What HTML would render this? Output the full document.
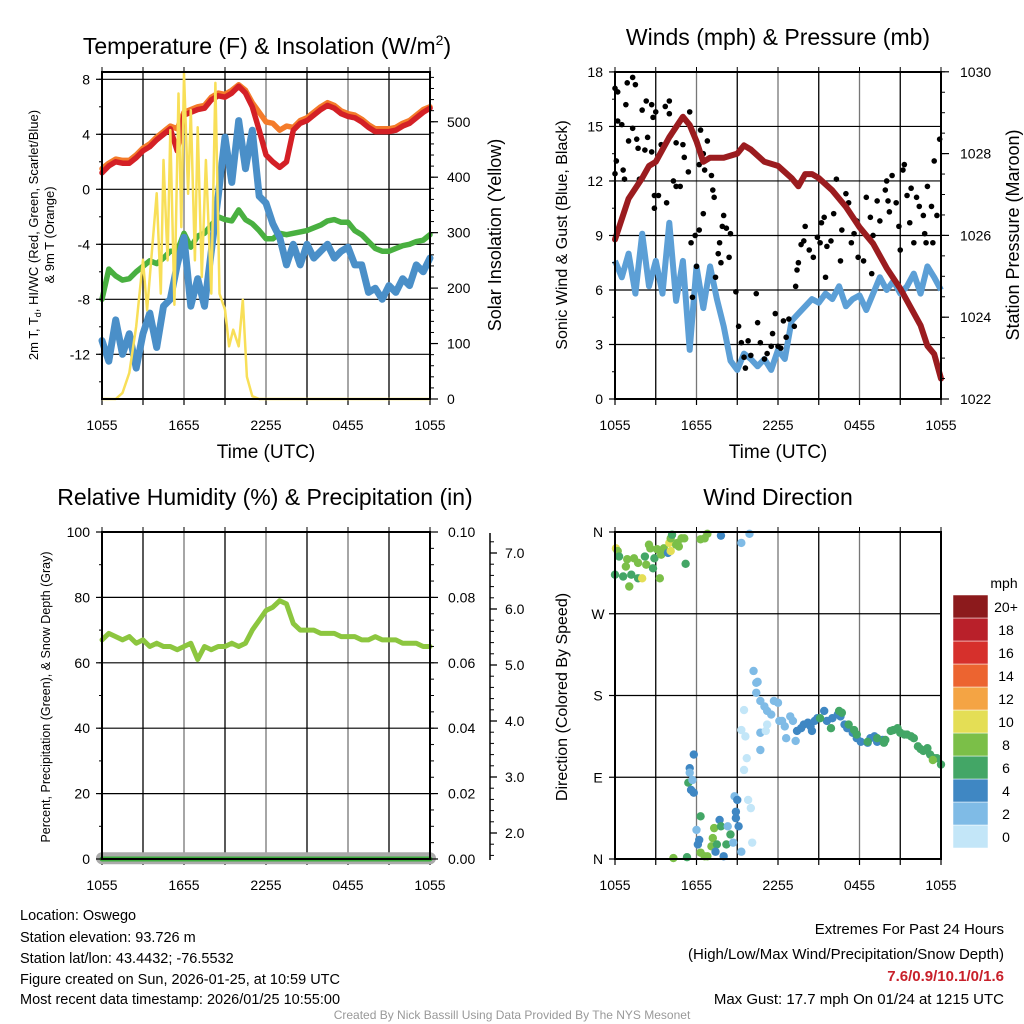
<!DOCTYPE html>
<html><head><meta charset="utf-8"><style>
html,body{margin:0;padding:0;background:#fff;}
svg{display:block;font-family:"Liberation Sans",Arial,sans-serif;}
</style></head><body>
<svg id="c" width="1024" height="1024" viewBox="0 0 1024 1024" xmlns="http://www.w3.org/2000/svg">
<rect width="1024" height="1024" fill="#fff"/>
<text x="267" y="54" font-size="23" text-anchor="middle">Temperature (F) &amp; Insolation (W/m<tspan font-size="14" dy="-9">2</tspan><tspan dy="9">)</tspan></text>
<text x="778" y="45" font-size="23" text-anchor="middle">Winds (mph) &amp; Pressure (mb)</text>
<text x="265" y="505" font-size="23" text-anchor="middle">Relative Humidity (%) &amp; Precipitation (in)</text>
<text x="778" y="505" font-size="23" text-anchor="middle">Wind Direction</text>
<text x="266" y="458" font-size="19" text-anchor="middle">Time (UTC)</text>
<text x="778" y="458" font-size="19" text-anchor="middle">Time (UTC)</text>
<text transform="translate(38,235) rotate(-90)" font-size="13" text-anchor="middle">2m T, T<tspan font-size="9" dy="3">d</tspan><tspan dy="-3">, HI/WC (Red, Green, Scarlet/Blue)</tspan></text>
<text transform="translate(54,235) rotate(-90)" font-size="13" text-anchor="middle">&amp; 9m T (Orange)</text>
<text transform="translate(501,235) rotate(-90)" font-size="18" text-anchor="middle">Solar Insolation (Yellow)</text>
<text transform="translate(567,235) rotate(-90)" font-size="16" text-anchor="middle">Sonic Wind &amp; Gust (Blue, Black)</text>
<text transform="translate(1019,235) rotate(-90)" font-size="18" text-anchor="middle">Station Pressure (Maroon)</text>
<text transform="translate(50,697) rotate(-90)" font-size="12.5" text-anchor="middle">Percent, Precipitation (Green), &amp; Snow Depth (Gray)</text>
<text transform="translate(567,697) rotate(-90)" font-size="16" text-anchor="middle">Direction (Colored By Speed)</text>
<g font-size="14.5">
<text x="20" y="920">Location: Oswego</text>
<text x="20" y="942">Station elevation: 93.726 m</text>
<text x="20" y="963">Station lat/lon: 43.4432; -76.5532</text>
<text x="20" y="984">Figure created on Sun, 2026-01-25, at 10:59 UTC</text>
<text x="20" y="1004">Most recent data timestamp: 2026/01/25 10:55:00</text>
</g>
<g font-size="15" text-anchor="end">
<text x="1004" y="934">Extremes For Past 24 Hours</text>
<text x="1004" y="959">(High/Low/Max Wind/Precipitation/Snow Depth)</text>
<text x="1004" y="981" fill="#c8202a" font-weight="bold">7.6/0.9/10.1/0/1.6</text>
<text x="1004" y="1004">Max Gust: 17.7 mph On 01/24 at 1215 UTC</text>
</g>
<text x="512" y="1019" font-size="12" fill="#999" text-anchor="middle">Created By Nick Bassill Using Data Provided By The NYS Mesonet</text>
</svg>
<script>
// ---- data ----
const xTickLabels = ["1055","1655","2255","0455","1055"];
const tempLeftTicks = [8,4,0,-4,-8,-12];
const solarTicks = [0,100,200,300,400,500];
const windTicks = [0,3,6,9,12,15,18];
const pressTicks = [1022,1024,1026,1028,1030];
const rhTicks = [0,20,40,60,80,100];
const precipTicks = ["0.00","0.02","0.04","0.06","0.08","0.10"];
const snowTicks = ["2.0","3.0","4.0","5.0","6.0","7.0"];
const dirLabels = ["N","W","S","E","N"];
const speedBins = ["0","2","4","6","8","10","12","14","16","18","20+"];
const speedColors = ["#c3e6f8","#7fbbe6","#3f87c3","#43a666","#7bbf48","#e4de55","#f4a444","#ec6430","#d6302c","#b9202a","#8c1a1c"];

const halfHours = [0,0.5,1,1.5,2,2.5,3,3.5,4,4.5,5,5.5,6,6.5,7,7.5,8,8.5,9,9.5,10,10.5,11,11.5,12,12.5,13,13.5,14,14.5,15,15.5,16,16.5,17,17.5,18,18.5,19,19.5,20,20.5,21,21.5,22,22.5,23,23.5,24];
const temp2m = [1.2,1.7,2.0,1.9,1.9,2.3,2.8,3.1,3.6,4.0,4.4,2.8,5.4,5.6,5.8,5.9,6.5,6.8,6.7,7.0,7.5,7.0,6.0,4.3,2.5,2.0,1.6,2.0,4.3,4.8,5.0,5.4,5.8,6.1,5.9,5.5,5.3,5.2,4.9,4.5,4.2,4.2,4.2,4.3,4.6,4.8,5.2,5.6,5.9];
const temp9m = [1.5,1.9,2.2,2.1,2.1,2.5,3.0,3.3,3.8,4.2,4.6,4.4,5.6,5.8,6.0,6.1,6.7,7.0,6.9,7.2,7.6,7.2,6.3,5.6,4.9,4.8,4.3,4.6,4.5,5.0,5.2,5.6,6.0,6.3,6.1,5.7,5.5,5.4,5.1,4.7,4.4,4.4,4.4,4.5,4.8,5.0,5.4,5.8,6.0];
const windChill = [-8,-5.8,-6.3,-6.6,-6.5,-6,-5.6,-5.2,-5.4,-5,-4.5,-4.5,-3.2,-4.2,-3.4,-3.2,-2.6,-2.0,-2.2,-2.3,-1.5,-2.2,-2.5,-3,-3.6,-3.6,-3.2,-3.3,-3.2,-3.1,-3.0,-2.8,-2.6,-2.3,-2.2,-2.4,-2.4,-3,-3.3,-3.8,-4.3,-4.5,-4.5,-4.3,-4.1,-4.0,-3.8,-3.7,-3.3];
const dewpoint = [-11,-12.5,-9.5,-12,-10.5,-13,-10.5,-9,-11.5,-8.5,-8,-5.5,-3.5,-8.5,-6.5,-8.5,-4.5,-0.5,3.8,0.5,5,1.5,4.3,-0.5,-1,-2.5,-3.5,-5.5,-4,-5.5,-4,-5,-4.5,-4,-5,-4.5,-4.2,-5.5,-5.5,-7.5,-7.2,-8,-7,-7.5,-6.5,-7,-5.5,-6,-5];
const solarT = [0,1,1.5,2,2.5,3,3.3,3.5,4,4.3,4.5,4.8,5,5.3,5.6,5.8,6,6.3,6.5,6.8,7,7.3,7.6,8,8.3,8.6,9,9.3,9.6,10,10.3,10.6,11,11.5,24];
const solarW = [0,0,11,47,131,251,160,220,371,190,431,250,485,170,551,310,587,370,521,250,490,220,431,190,570,190,161,95,125,95,179,40,5,0,0];

const windSpeed = [7.6,6.7,8,5.8,9.1,6.2,7.6,5.8,9.7,5.4,7.6,2.7,7.3,5,7.3,5.5,4.0,2.1,1.6,2.5,2.2,1.8,2.2,1.6,2.7,2.2,4.3,4.7,5.1,5.5,5.3,5.8,5.5,6.2,5.1,5.5,5.7,4.9,5.8,6.7,6.0,6.5,5.8,6.2,6.9,5.8,7.3,6.7,6.0];
const pressT = [0,1,2,2.5,3,4,5,5.5,6,6.5,7,8,9,9.5,10,11,12,13,13.5,14,14.5,15,16,17,18,19,20,21,22,22.5,23,23.5,24];
const pressMb = [1025.9,1026.9,1027.4,1027.7,1027.8,1028.4,1028.9,1028.7,1028.3,1027.8,1027.9,1027.9,1028.0,1028.2,1028.1,1027.8,1027.7,1027.4,1027.2,1027.5,1027.5,1027.4,1027.1,1026.7,1026.2,1025.8,1025.2,1024.7,1024.1,1023.8,1023.3,1023.1,1022.5];
const gustT = [0.0,0.2,0.9,1.3,1.5,0.2,0.5,0.1,0.0,0.6,0.7,0.8,1.3,1.0,1.6,1.7,1.8,2.2,2.4,2.0,2.3,2.7,2.8,3.0,2.7,2.9,3.2,2.9,3.4,3.7,3.8,4.0,4.0,4.1,4.3,4.5,4.5,4.8,5.0,5.1,5.4,5.5,5.6,5.9,6.0,6.2,6.2,6.3,6.5,6.6,6.8,7.1,7.2,7.3,6.5,5.7,7.4,7.6,7.7,7.8,7.9,8.0,8.2,8.4,8.5,8.9,9.1,9.3,9.5,9.6,9.8,10.0,10.4,10.5,10.7,11.0,11.2,11.5,11.6,11.8,12.0,12.2,12.4,12.6,12.8,13.2,13.3,13.4,13.5,13.7,13.9,14.0,14.3,14.6,14.9,15.1,15.2,15.4,15.5,15.6,15.9,16.1,16.3,16.6,16.7,17.0,17.2,17.4,17.6,17.8,17.9,18.3,18.5,18.8,18.9,19.0,19.3,19.5,19.9,20.0,20.1,20.2,20.4,20.7,20.9,21.0,21.2,21.3,21.5,21.7,21.8,22.0,22.2,22.4,22.7,22.8,22.9,23.0,23.3,23.4,23.5,23.7,23.9];
const gustV = [17.1,16.9,17.4,17.7,17.3,15.3,15.1,13.1,12.4,12.6,12.1,16.2,14.9,14.2,14.3,13.8,12.1,13.7,14.4,15.9,16.4,16.2,15.5,15.8,13.6,11.2,11.2,10.5,14.0,16.1,10.8,16.4,15.7,14.5,12.0,11.7,14.1,11.7,14.0,13.3,12.5,15.8,8.6,9.0,7.3,9.3,12.9,14.8,13.5,12.6,14.2,12.3,11.5,11.1,10.2,5.6,6.7,8.0,8.6,7.5,9.5,10.1,9.4,7.8,9.1,5.9,4.0,3.1,2.3,1.7,3.2,2.4,5.8,4.2,3.1,2.2,2.5,2.9,3.6,4.7,2.9,2.8,4.3,3.4,4.4,4.0,6.2,7.1,7.5,8.5,8.7,9.5,8.2,7.8,8.9,8.6,9.7,10.0,6.7,8.4,8.7,10.2,12.1,7.6,9.3,11.3,10.8,8.6,9.1,9.8,7.8,7.6,11.1,10.0,6.9,9.0,10.9,9.8,11.5,12.0,10.9,10.3,12.3,10.8,9.5,8.2,12.6,12.9,11.2,9.7,11.6,8.6,11.1,10.6,10.1,9.1,8.6,11.7,10.6,8.6,13.1,10.1,14.3];

const rh = [67,69,68,67,68,66,67,65,66,65,65,64,65,66,61,65,64,65,65,66,65,66,70,73,76,77,79,78,72,70,70,70,69,69,69,68,68,68,67,67,68,67,67,67,66,66,66,65,65];
const precip = [0,0,0,0,0];
const precipT = [0,6,12,18,24];
const snowDepth = [1.55,1.55,1.55,1.55,1.55];

const dirT = [0.07,0.2,0.3,0.0,0.6,1.05,1.2,1.7,2.0,0.8,0.9,1.4,1.7,2.2,2.3,2.5,2.6,2.8,2.9,3.1,3.3,3.4,3.6,3.9,4.0,4.1,4.1,4.2,4.5,4.6,4.7,4.9,5.1,5.2,6.3,6.6,6.8,7.8,9.3,9.9,
 5.8,5.5,5.5,5.4,5.7,5.6,5.8,6.3,6.0,6.2,6.1,6.3,6.6,6.8,7.1,7.2,7.3,7.5,7.4,7.7,7.8,8.0,8.2,8.3,8.5,8.7,8.8,8.9,9.0,8.9,9.1,9.3,4.3,5.3,9.8,10.0,10.1,
 9.3,9.6,9.5,9.7,9.5,10.2,10.4,10.5,10.4,10.7,11.0,11.2,11.5,11.7,12.0,12.1,12.3,12.5,12.6,12.9,13.1,13.3,10.7,10.7,11.2,11.1,
 13.4,13.7,13.9,14.2,14.4,14.5,14.7,14.9,15.4,15.6,16.0,16.4,16.6,16.9,17.1,17.5,17.8,18.1,18.6,18.8,19.1,19.3,19.7,
 15.1,15.9,16.5,16.7,17.2,17.6,17.8,18.6,19.3,19.8,19.9,20.3,20.5,20.8,21.0,21.3,21.5,21.8,22.0,22.3,22.5,22.7,23.0,23.2,23.5,23.7,24.0,23.4];
const dirDeg = [342,339,333,313,311,300,313,309,309,322,330,331,326,333,324,346,342,320,331,341,309,335,342,337,348,339,353,357,346,348,344,353,353,325,352,353,358,356,348,358,
 115,100,95,84,87,76,73,47,32,21,16,7,3,3,14,23,34,16,8,43,36,3,16,36,27,18,69,45,65,52,36,8,1,2,65,56,18,
 142,135,164,111,98,207,194,195,183,174,168,163,159,174,172,152,152,146,133,157,152,130,139,120,148,141,
 141,144,148,150,146,141,152,155,163,152,155,159,157,148,144,139,133,129,128,133,135,129,131,
 155,144,163,161,148,142,137,129,133,128,131,141,142,144,139,137,137,135,133,124,121,119,122,115,111,111,104,109];
const dirSpd = [10,8,6,6,6,8,6,6,10,8,8,8,8,6,8,8,8,6,6,8,8,8,8,4,10,10,8,6,8,8,8,8,8,6,8,8,8,4,2,2,
 4,4,2,6,2,4,4,6,2,4,4,8,8,8,8,8,8,6,4,4,6,4,6,2,6,2,2,4,4,4,4,2,8,6,0,0,0,
 0,0,0,0,0,2,2,2,2,2,2,2,2,2,2,2,2,2,2,2,2,2,2,2,0,0,
 4,4,4,4,4,4,4,4,4,4,4,4,4,4,4,4,4,4,4,4,4,4,4,
 6,6,6,6,6,6,6,6,6,6,6,6,6,6,6,6,6,6,6,6,6,6,6,6,6,6,6,8];

// ---- axis functions ----
const X1 = h => 102 + h*328/24;
const X2 = h => 615 + h*326/24;
const Yt = v => 189.3 - 13.75*v;
const Ys = w => 399 - w*0.5545;
const Yw = v => 399 - v*18.17;
const Yp = p => 399 - (p-1022)*40.9;
const Yrh = v => 859 - v*3.27;
const Ypr = v => 859 - v*3270;
const Ysd = v => 833 - (v-2)*56;
const Yd = d => 859 - d*327/360;

const svg = document.getElementById('c');
const NS = 'http://www.w3.org/2000/svg';
function mk(tag, attrs, parent){
  const e = document.createElementNS(NS, tag);
  for (const k in attrs) e.setAttribute(k, attrs[k]);
  (parent||svg).appendChild(e);
  return e;
}
function line(x1,y1,x2,y2,stroke,w,parent){ return mk('line',{x1,y1,x2,y2,stroke,'stroke-width':w},parent); }
function txt(x,y,s,anchor,size,parent){ const t=mk('text',{x,y,'font-size':size||14,'text-anchor':anchor||'middle'},parent); t.textContent=s; return t; }
function pathFrom(xs, ys, fx, fy){ let d=''; for(let i=0;i<xs.length;i++){ d += (i?'L':'M')+fx(xs[i]).toFixed(1)+','+fy(ys[i]).toFixed(1);} return d; }

function frame(name, L, T, R, B, X, hGridYs){
  const g = mk('g',{});
  
  
  for (let h=3; h<24; h+=3){
    const gl = line(X(h),T,X(h),B,(h%6===0)?'#777':'#000',1.3,g);
    
    
  }
  hGridYs.forEach(y=>{ const gl=line(L,y,R,y,'#000',1.2,g);   });
  for (let h=0; h<=24; h+=3){ line(X(h),B,X(h),B+6,'#000',1.2,g); line(X(h),T,X(h),T-5,'#000',1,g); }
  xTickLabels.forEach((s,i)=>{ const t=txt(X(i*6),B+31,s,'middle',14,g);   });
  return g;
}
function outline(L,T,R,B){ const r=mk('rect',{x:L,y:T,width:R-L,height:B-T,fill:'none',stroke:'#000','stroke-width':2});   }
function leftTicks(L, vals, fy, fmt, minorStep, lo, hi){
  for (let v=lo; v<=hi+1e-9; v+=minorStep) line(L,fy(v),L-3,fy(v),'#000',1);
  vals.forEach(v=>{ line(L,fy(v),L-6,fy(v),'#000',1.2); const t=txt(L-12,fy(v)+5,fmt(v),'end',14);   });
}
function rightTicks(R, vals, fy, fmt, minorStep, lo, hi, labelX){
  for (let v=lo; v<=hi+1e-9; v+=minorStep) line(R,fy(v),R+4,fy(v),'#000',1);
  vals.forEach(v=>{ line(R,fy(v),R+8,fy(v),'#000',1.2); const t=txt(labelX,fy(v)+5,fmt(v),'start',14);   });
}

// ---- Panel 1: temperature ----
frame('temp-panel',102,72,430,399,X1,tempLeftTicks.map(Yt));
const p1 = mk('g',{});


[['windchill-line',windChill,'#49b040',5.5],['dewpoint-line',dewpoint,'#4a8fc8',7],['temp9m-line',temp9m,'#f47b2a',5.5],['temp2m-line',temp2m,'#d42026',5.5]].forEach(([n,arr,c,w])=>{
  const p = mk('path',{d:pathFrom(halfHours,arr,X1,Yt),fill:'none',stroke:c,'stroke-width':w,'stroke-linejoin':'round','stroke-linecap':'round'},p1);
  
  
});
const solar = mk('path',{d:pathFrom(solarT,solarW,X1,Ys),fill:'none',stroke:'#f8df58','stroke-width':2.5,'stroke-linejoin':'round'},p1);


outline(102,72,430,399);
leftTicks(102,tempLeftTicks,Yt,v=>String(v),2,-14,8);
rightTicks(430,solarTicks,Ys,v=>String(v),20,0,580,447);

// ---- Panel 2: wind ----
frame('wind-panel',615,72,941,399,X2,windTicks.slice(1).map(Yw));
const p2 = mk('g',{});


const ws = mk('path',{d:pathFrom(halfHours,windSpeed,X2,Yw),fill:'none',stroke:'#5c9fd6','stroke-width':6,'stroke-linejoin':'round'},p2);


for (let i=0;i<gustT.length;i++){
  const c = mk('circle',{cx:X2(gustT[i]),cy:Yw(gustV[i]),r:2.8,fill:'#000'},p2);
  
  
}
const pr = mk('path',{d:pathFrom(pressT,pressMb,X2,Yp),fill:'none',stroke:'#9b1c1f','stroke-width':6,'stroke-linejoin':'round','stroke-linecap':'round'},p2);


outline(615,72,941,399);
leftTicks(615,windTicks,Yw,v=>String(v),1.5,0,18);
rightTicks(941,pressTicks,Yp,v=>String(v),0.5,1022,1030,960);

// ---- Panel 3: RH ----
frame('rh-panel',102,532,430,859,X1,rhTicks.slice(1,5).map(Yrh));
const p3 = mk('g',{});


const sd = mk('path',{d:pathFrom(precipT,snowDepth,X1,Ysd),fill:'none',stroke:'#aaa','stroke-width':12,'stroke-linecap':'round'},p3);


const pc = mk('path',{d:pathFrom(precipT,precip,X1,Ypr),fill:'none',stroke:'#3fae3f','stroke-width':5,'stroke-linecap':'round'},p3);


const rl = mk('path',{d:pathFrom(halfHours,rh,X1,Yrh),fill:'none',stroke:'#8cc63f','stroke-width':5,'stroke-linejoin':'round','stroke-linecap':'round'},p3);


outline(102,532,430,859);
leftTicks(102,rhTicks,Yrh,v=>String(v),10,0,100);
rightTicks(430,precipTicks.map(Number),Ypr,v=>v.toFixed(2),0.005,0,0.1,448);
line(490,533,490,860,'#000',1.5);
for (let v=1.6; v<=7.4; v+=0.2) line(490,Ysd(v),494,Ysd(v),'#000',1);
snowTicks.forEach(s=>{ const v=Number(s); line(490,Ysd(v),497,Ysd(v),'#000',1.3); const t=txt(505,Ysd(v)+5,s,'start',14);   });

// ---- Panel 4: direction ----
frame('dir-panel',615,532,941,859,X2,[90,180,270].map(Yd));
const p4 = mk('g',{});


for (let i=0;i<dirT.length;i++){
  const c = mk('circle',{cx:X2(dirT[i]),cy:Yd(dirDeg[i]),r:4.2,fill:speedColors[Math.min(10,Math.floor(dirSpd[i]/2))]},p4);
  
  
}
outline(615,532,941,859);
dirLabels.forEach((s,i)=>{ const y=Yd(360-i*90); line(615,y,609,y,'#000',1.2); const t=txt(598,y+5,s,'middle',14);   });
// Colorbar
const cb = mk('g',{});


speedBins.forEach((s,i)=>{
  const y = 848 - (i+1)*23;
  const r = mk('rect',{x:953,y:y,width:35,height:23,fill:speedColors[i],stroke:'#fff','stroke-width':0.5},cb);
  
  
  const t = txt(1006,y+17,s,'middle',14,cb);
  
  
});
const mph = txt(1004,588,'mph','middle',14,cb);


</script>
</body></html>
